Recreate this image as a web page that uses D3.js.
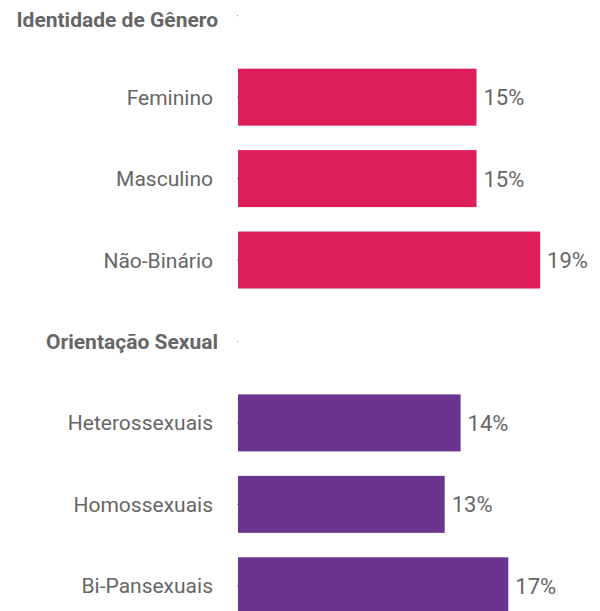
<!DOCTYPE html>
<html>
<head>
<meta charset="utf-8">
<script src="https://cdn.jsdelivr.net/npm/d3@7"></script>
<style>
  body { margin: 0; background: #fff; }
  .chart text { font-family: Roboto, "Noto Sans", sans-serif; fill: #666; }
  .axis path { display: none; }
  .axis line { stroke: #888; }
</style>
</head>
<body>
<svg class="chart"></svg>
<script>
// groups and their bars
const groups = ["Identidade de Gênero", "Orientação Sexual"];
const categories = ["Feminino", "Masculino", "Não-Binário", "Heterossexuais", "Homossexuais", "Bi-Pansexuais"];
const values = [15, 15, 19, 14, 13, 17];
const groupIndex = [0, 0, 0, 1, 1, 1];
const groupColors = ["#de1e5b", "#6b348e"];

const margin = {top: -25, right: 0, bottom: 0, left: 238};
const width = 600;
const height = 611;
const padding = 0.3;

// one row per header followed by its categories
const rows = [];
groups.forEach((g, gi) => {
  rows.push({label: g, header: true});
  categories.forEach((c, i) => {
    if (groupIndex[i] === gi) rows.push({label: c, value: values[i], group: gi});
  });
});

const x = d3.scaleLinear()
    .domain([0, 20])
    .range([0, 318]);

const y = d3.scaleBand()
    .domain(rows.map((d) => d.label))
    .range([0, 651.5])
    .paddingInner(padding)
    .paddingOuter(padding / 2);

const yAxis = d3.axisLeft(y)
    .tickSize(1)
    .tickPadding(24);

const chart = d3.select('.chart')
    .attr('width', width)
    .attr('height', height)
  .append('g')
    .attr('transform', `translate(${ margin.left },${ margin.top })`);

const axis = chart.append('g')
    .attr('class', 'axis')
    .call(yAxis);

axis.selectAll('.tick text')
    .style('font-size', '21px')
    .attr('dy', '0.36em')
    .each(function(d, i) {
      const row = rows.find((r) => r.label === d);
      if (row.header) {
        d3.select(this)
            .style('font-weight', 'bold')
            .attr('x', -20)
            // first header sits a bit lower, away from the top edge
            .attr('dy', i === 0 ? '0.55em' : '0.36em');
      }
    });

const bars = rows.filter((d) => !d.header);

chart.selectAll('.bar')
    .data(bars)
  .enter().append('rect')
    .attr('class', 'bar')
    .attr('x', 0)
    .attr('y', (d) => y(d.label))
    .attr('width', (d) => x(d.value))
    .attr('height', y.bandwidth())
    .style('fill', (d) => groupColors[d.group]);

// value next to each bar
chart.selectAll('.value')
    .data(bars)
  .enter().append('text')
    .attr('class', 'value')
    .attr('x', (d) => x(d.value) + 7)
    .attr('y', (d) => y(d.label) + y.bandwidth() / 2)
    .attr('dy', '0.36em')
    .style('font-size', '22px')
    .text((d) => `${ d.value }%`);
</script>
</body>
</html>
